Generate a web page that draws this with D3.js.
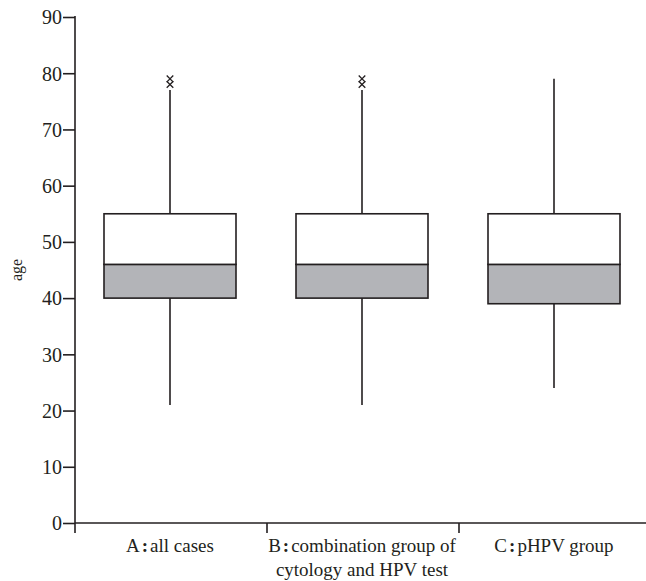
<!DOCTYPE html>
<html>
<head>
<meta charset="utf-8">
<script src="https://cdn.jsdelivr.net/npm/d3@7"></script>
<style>
  body { margin: 0; background: #fff; }
  text { font-family: "Liberation Serif", "DejaVu Serif", serif; fill: #231f20; }
</style>
</head>
<body>
<div id="chart"></div>
<script>
const width = 646, height = 581;
const margin = {top: 17, right: 0, bottom: 58, left: 75};

// data
const categories = ['A', 'B', 'C'];
const catLabels = [['all cases'], ['combination group of', 'cytology and HPV test'], ['pHPV group']];
const whiskerLow = [21, 21, 24];
const q1 = [40, 40, 39];
const medians = [46, 46, 46];
const q3 = [55, 55, 55];
const whiskerHigh = [77, 77, 79];
const outliers = [[78, 79], [78, 79], []];
const yTicks = [0, 10, 20, 30, 40, 50, 60, 70, 80, 90];

const ink = '#231f20';
const svg = d3.select('#chart').append('svg')
  .attr('width', width)
  .attr('height', height);

const x = d3.scaleBand()
  .domain(categories)
  .range([margin.left, 651]);
const y = d3.scaleLinear()
  .domain([0, 90])
  .range([height - margin.bottom, margin.top]);

const boxW = 132;

// y axis
const yAxis = svg.append('g')
  .attr('transform', `translate(${margin.left},0)`)
  .call(d3.axisLeft(y).tickValues(yTicks).tickSize(12).tickPadding(1));
yAxis.select('.domain').remove();
yAxis.selectAll('line').attr('stroke', ink).attr('stroke-width', 1.6);
yAxis.selectAll('text').style('font-size', '20px').attr('fill', ink).attr('dy', '0.34em');
svg.append('line')
  .attr('x1', margin.left).attr('x2', margin.left)
  .attr('y1', y(90) - 1).attr('y2', y(0) + 10)
  .attr('stroke', ink).attr('stroke-width', 1.6);

// x axis
svg.append('line')
  .attr('x1', margin.left).attr('x2', width)
  .attr('y1', y(0)).attr('y2', y(0))
  .attr('stroke', ink).attr('stroke-width', 1.6);
// separators between the groups
categories.slice(1).forEach(c => {
  svg.append('line')
    .attr('x1', x(c)).attr('x2', x(c))
    .attr('y1', y(0)).attr('y2', y(0) + 10)
    .attr('stroke', ink).attr('stroke-width', 1.6);
});

// category labels  (letter + colon + description)
categories.forEach((c, i) => {
  const cx = x(c) + x.bandwidth() / 2 - 1;
  const t = svg.append('text')
    .attr('text-anchor', 'middle')
    .style('font-size', '19px')
    .attr('x', cx)
    .attr('y', y(0) + 29);
  t.append('tspan').text(c);
  t.append('tspan').attr('dx', 2).style('font-weight', 'bold').text(':');
  t.append('tspan').attr('dx', 2).text(catLabels[i][0]);
  catLabels[i].slice(1).forEach(line => {
    t.append('tspan')
      .attr('x', cx)
      .attr('dy', 24)
      .text(line);
  });
});

// y label
svg.append('text')
  .attr('transform', `translate(22,${(y(0) + y(90)) / 2}) rotate(-90)`)
  .attr('text-anchor', 'middle')
  .style('font-size', '16px')
  .text('age');

// boxes
categories.forEach((c, i) => {
  const cx = x(c) + x.bandwidth() / 2 - 1;
  const g = svg.append('g');
  // whiskers
  g.append('line')
    .attr('x1', cx).attr('x2', cx)
    .attr('y1', y(whiskerLow[i])).attr('y2', y(q1[i]))
    .attr('stroke', ink).attr('stroke-width', 1.6);
  g.append('line')
    .attr('x1', cx).attr('x2', cx)
    .attr('y1', y(q3[i])).attr('y2', y(whiskerHigh[i]))
    .attr('stroke', ink).attr('stroke-width', 1.6);
  // lower half (gray) and upper half (white)
  g.append('rect')
    .attr('x', cx - boxW / 2).attr('width', boxW)
    .attr('y', y(medians[i])).attr('height', y(q1[i]) - y(medians[i]))
    .attr('fill', '#b3b4b8').attr('stroke', ink).attr('stroke-width', 1.6);
  g.append('rect')
    .attr('x', cx - boxW / 2).attr('width', boxW)
    .attr('y', y(q3[i])).attr('height', y(medians[i]) - y(q3[i]))
    .attr('fill', '#fff').attr('stroke', ink).attr('stroke-width', 1.6);
  // outliers
  outliers[i].forEach(v => {
    g.append('path')
      .attr('d', d3.symbol().type(d3.symbolX).size(30)())
      .attr('transform', `translate(${cx},${y(v)})`)
      .attr('fill', 'none')
      .attr('stroke', ink).attr('stroke-width', 1.3);
  });
});
</script>
</body>
</html>
